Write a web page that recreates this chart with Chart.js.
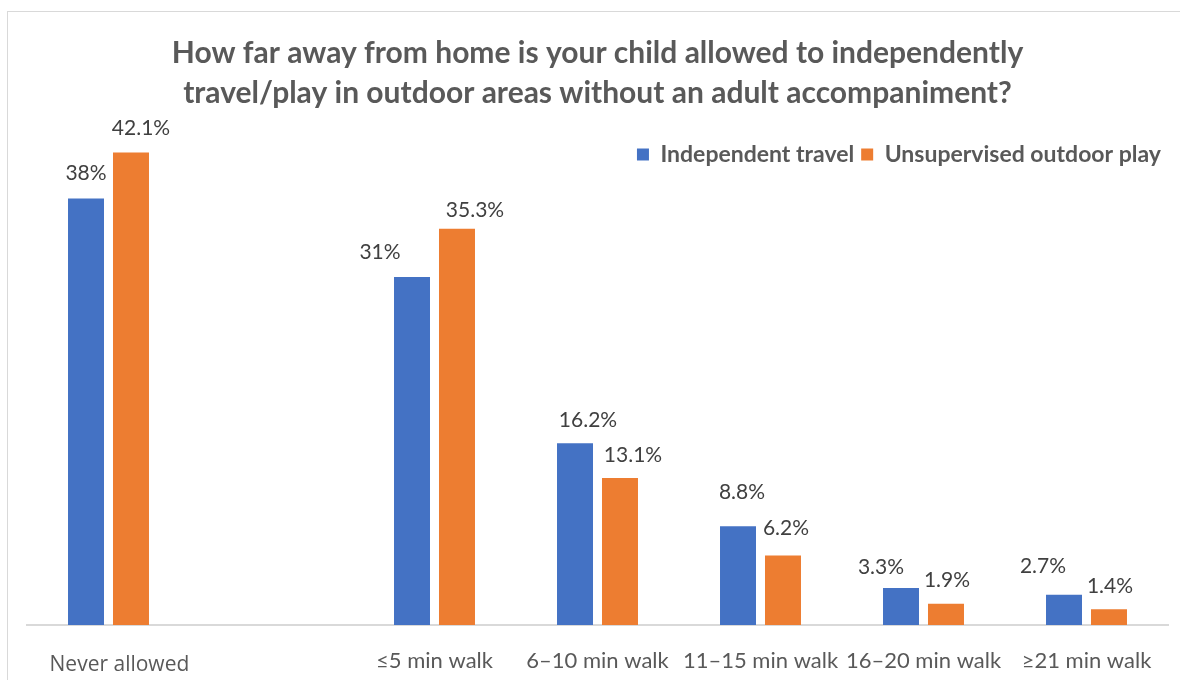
<!DOCTYPE html>
<html>
<head>
<meta charset="utf-8">
<script src="https://cdn.jsdelivr.net/npm/chart.js@4.4.1/dist/chart.umd.min.js"></script>
<style>
  body { margin: 0; background: #fff; }
  #wrap { position: relative; width: 1180px; height: 680px; }
</style>
</head>
<body>
<div id="wrap"><canvas id="chart"></canvas></div>
<script>
const categories = ['Never allowed', '', '≤5 min walk', '6–10 min walk', '11–15 min walk', '16–20 min walk', '≥21 min walk'];
const independentTravel = [38, null, 31, 16.2, 8.8, 3.3, 2.7];
const unsupervisedPlay = [42.1, null, 35.3, 13.1, 6.2, 1.9, 1.4];
const seriesNames = ['Independent travel', 'Unsupervised outdoor play'];
const titleLines = [
  'How far away from home is your child allowed to independently',
  'travel/play in outdoor areas without an adult accompaniment?'
];

// hand-placed data labels in the original, nudged from the bar top (dx, dy)
const labelNudge = [
  [[0, -25], [0, 0], [-32, -25], [13, -23], [4, -34], [-20, -21], [-21, -28]],
  [[10, -24], [0, 0], [18, -19], [13, -23], [3, -27], [1, -23], [1, -23]]
];

const textGrey = '#595959';

// outer frame like the exported chart
const framePlugin = {
  id: 'frame',
  beforeDraw(chart) {
    const ctx = chart.ctx;
    ctx.save();
    ctx.fillStyle = '#fff';
    ctx.fillRect(0, 0, chart.width, chart.height);
    ctx.strokeStyle = '#d9d9d9';
    ctx.lineWidth = 1;
    ctx.strokeRect(7.5, 11.5, chart.width + 10, chart.height + 10);
    ctx.restore();
  }
};

const valueLabels = {
  id: 'valueLabels',
  afterDatasetsDraw(chart) {
    const ctx = chart.ctx;
    ctx.save();
    ctx.font = '21px Lato';
    ctx.fillStyle = '#404040';
    ctx.textAlign = 'center';
    ctx.textBaseline = 'middle';
    chart.data.datasets.forEach((ds, d) => {
      const meta = chart.getDatasetMeta(d);
      meta.data.forEach((bar, i) => {
        const v = ds.data[i];
        if (v === null) return;
        const [dx, dy] = labelNudge[d][i];
        ctx.fillText(v + '%', bar.x + dx, bar.y + dy);
      });
    });
    ctx.restore();
  }
};

new Chart(document.getElementById('chart'), {
  type: 'bar',
  data: {
    labels: categories,
    datasets: [
      { label: seriesNames[0], data: independentTravel, backgroundColor: '#4472C4', clip: false },
      { label: seriesNames[1], data: unsupervisedPlay, backgroundColor: '#ED7D31', clip: false }
    ]
  },
  options: {
    responsive: true,
    maintainAspectRatio: false,
    animation: false,
    categoryPercentage: 0.552,
    barPercentage: 0.8,
    layout: { padding: { left: 27, right: 12, top: 0, bottom: -25 } },
    plugins: {
      title: {
        display: true,
        text: titleLines,
        color: textGrey,
        font: { family: 'Lato', size: 30, weight: 'bold', lineHeight: '40px' },
        padding: { top: 33, bottom: 23 }
      },
      legend: {
        position: 'top',
        align: 'end',
        labels: {
          boxWidth: 12,
          boxHeight: 12,
          padding: 7,
          color: textGrey,
          font: { family: 'Lato', size: 23, weight: 'bold' }
        }
      },
      tooltip: { enabled: false }
    },
    scales: {
      x: {
        grid: { display: false, drawTicks: false },
        border: { display: true, color: '#d9d9d9', width: 2 },
        ticks: {
          padding: 25,
          maxRotation: 0,
          autoSkip: false,
          color: textGrey,
          font: (c) => c.index === 0
            ? { family: 'Open Sans', size: 21, lineHeight: '30px' }
            : { family: 'Lato', size: 22, lineHeight: '22px' },
          callback: (v, i) => i === 0 ? '    ' + categories[i] : categories[i]
        }
      },
      y: {
        display: false,
        min: 0,
        max: 40
      }
    }
  },
  plugins: [framePlugin, valueLabels]
});
</script>
</body>
</html>
